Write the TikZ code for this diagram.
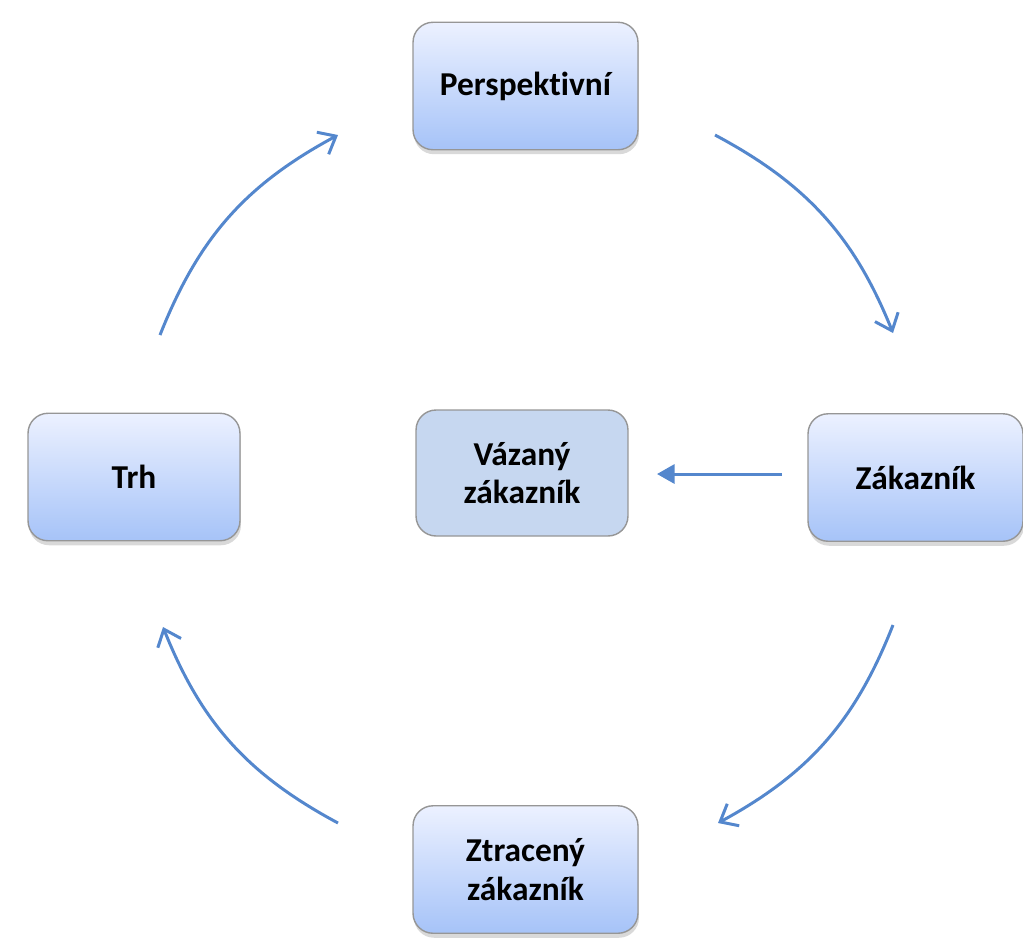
\documentclass[tikz,border=0pt]{standalone}
\usepackage{fontspec}
\setmainfont[Ligatures=NoCommon]{Carlito}
\usetikzlibrary{shadows, arrows.meta}
\definecolor{boxtop}{RGB}{236,241,255}
\definecolor{boxbot}{RGB}{166,195,248}
\definecolor{boxline}{RGB}{150,150,150}
\definecolor{midfill}{RGB}{198,215,240}
\definecolor{arrowblue}{RGB}{84,135,205}
\begin{document}
\begin{tikzpicture}[
  x=0.02cm, y=-0.02cm,
  stage/.style={draw=boxline, line width=0.8pt, rounded corners=0.4cm, top color=boxtop, bottom color=boxbot,
    drop shadow={shadow xshift=0.02cm, shadow yshift=-0.09cm, opacity=0.3},
    minimum width=4.5cm, minimum height=2.55cm, align=center,
    font=\fontsize{19}{22}\selectfont\bfseries},
  midbox/.style={draw=boxline, line width=0.8pt, rounded corners=0.4cm, fill=midfill,
    minimum width=4.24cm, minimum height=2.52cm, align=center,
    font=\fontsize{19}{22}\selectfont\bfseries},
  cycle/.style={draw=arrowblue, line width=1.7pt, -{Straight Barb[length=0.3cm, width=0.5cm, line width=1.7pt]}},
  link/.style={draw=arrowblue, line width=1.7pt, -{Triangle[length=0.35cm, width=0.38cm]}}
]
\useasboundingbox (0, 0) rectangle (1023, 948);
% stages
\node [stage] (persp) at (525.5, 86) {Perspektivní};
\node [stage, minimum width=4.24cm] (trh) at (134, 477) {Trh};
\node [midbox] (vazany) at (522, 473) {Vázaný\\zákazník};
\node [stage, minimum width=4.3cm] (zakaznik) at (915.5, 477.5) {Zákazník};
\node [stage] (ztraceny) at (525.5, 869.5) {Ztracený\\zákazník};
% arrow ends
\coordinate (a1) at (160, 335);
\coordinate (b1) at (338, 135);
\coordinate (a2) at (715, 135);
\coordinate (b2) at (893, 333);
\coordinate (a3) at (893, 625);
\coordinate (b3) at (718, 823);
\coordinate (a4) at (338, 823);
\coordinate (b4) at (163, 627);
\coordinate (c0) at (782, 474);
\coordinate (c1) at (657, 474);
\draw [cycle] (a1) to [bend left=20] (b1);
\draw [cycle] (a2) to [bend left=20] (b2);
\draw [cycle] (a3) to [bend left=20] (b3);
\draw [cycle] (a4) to [bend left=20] (b4);
\draw [link] (c0) -- (c1);
\end{tikzpicture}
\end{document}
